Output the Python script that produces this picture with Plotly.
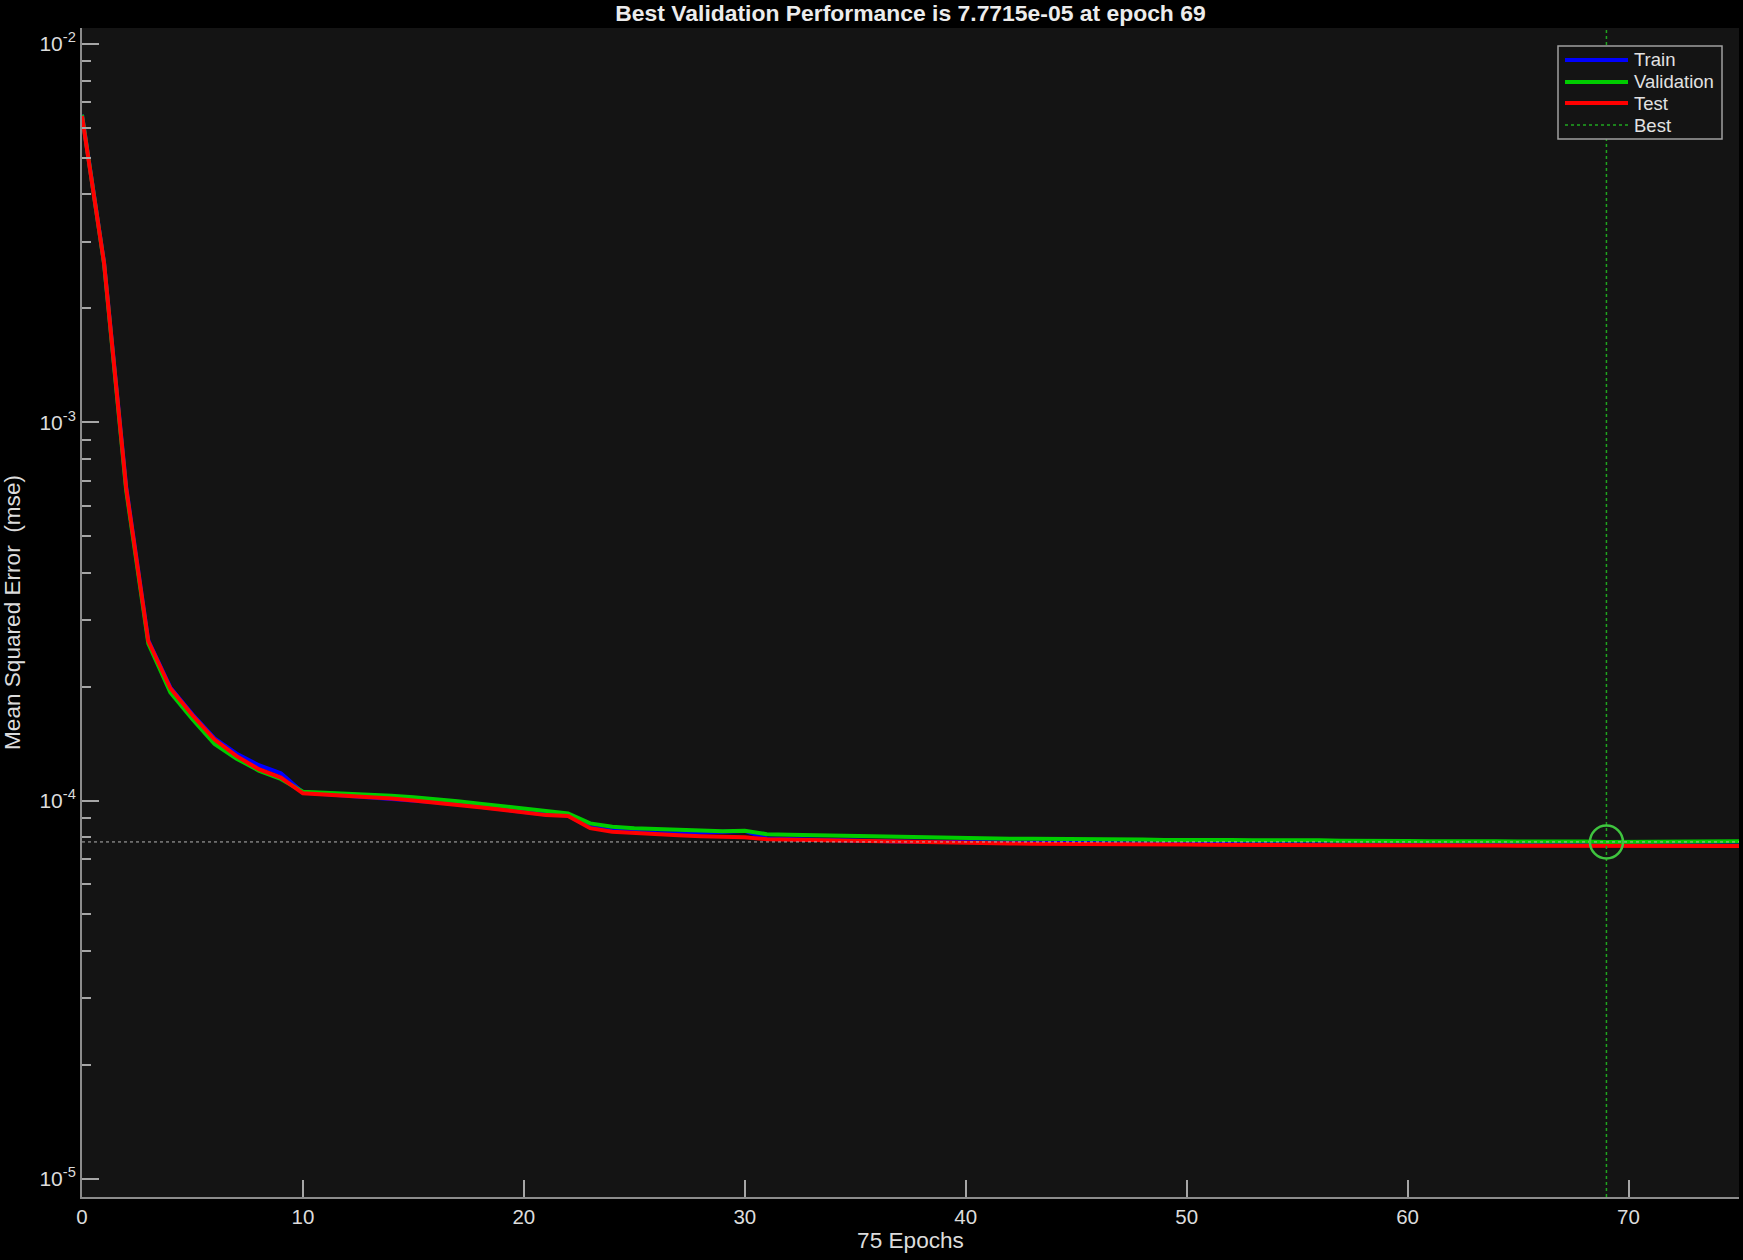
import plotly.graph_objects as go

epochs = list(range(0, 76))

train_mse = [6.50e-3, 2.64e-3, 6.75e-4, 2.65e-4, 1.99e-4, 1.69e-4, 1.46e-4, 1.33e-4, 1.24e-4, 1.18e-4,
             1.050e-4, 1.040e-4, 1.033e-4, 1.025e-4, 1.015e-4, 1.003e-4, 9.90e-5, 9.78e-5, 9.63e-5, 9.48e-5,
             9.33e-5, 9.18e-5, 9.13e-5, 8.50e-5, 8.33e-5, 8.26e-5, 8.21e-5, 8.18e-5, 8.22e-5, 8.30e-5,
             8.31e-5, 7.94e-5, 7.91e-5, 7.89e-5, 7.88e-5, 7.86e-5, 7.82e-5, 7.79e-5, 7.78e-5, 7.77e-5,
             7.76e-5, 7.74e-5, 7.73e-5, 7.72e-5, 7.72e-5, 7.71e-5, 7.70e-5, 7.70e-5, 7.69e-5, 7.69e-5,
             7.68e-5, 7.67e-5, 7.67e-5, 7.66e-5, 7.66e-5, 7.65e-5, 7.65e-5, 7.65e-5, 7.64e-5, 7.64e-5,
             7.64e-5, 7.63e-5, 7.63e-5, 7.63e-5, 7.63e-5, 7.62e-5, 7.62e-5, 7.62e-5, 7.62e-5, 7.61e-5,
             7.61e-5, 7.61e-5, 7.61e-5, 7.61e-5, 7.61e-5, 7.61e-5]

validation_mse = [6.50e-3, 2.62e-3, 6.60e-4, 2.60e-4, 1.93e-4, 1.64e-4, 1.41e-4, 1.29e-4, 1.20e-4, 1.14e-4,
                  1.055e-4, 1.050e-4, 1.045e-4, 1.040e-4, 1.030e-4, 1.020e-4, 1.010e-4, 9.95e-5, 9.80e-5, 9.65e-5,
                  9.50e-5, 9.35e-5, 9.25e-5, 8.70e-5, 8.52e-5, 8.45e-5, 8.40e-5, 8.36e-5, 8.32e-5, 8.30e-5,
                  8.32e-5, 8.15e-5, 8.12e-5, 8.10e-5, 8.09e-5, 8.07e-5, 8.03e-5, 7.99e-5, 7.99e-5, 7.96e-5,
                  7.97e-5, 7.94e-5, 7.93e-5, 7.92e-5, 7.92e-5, 7.90e-5, 7.90e-5, 7.89e-5, 7.89e-5, 7.87e-5,
                  7.88e-5, 7.86e-5, 7.86e-5, 7.85e-5, 7.86e-5, 7.84e-5, 7.85e-5, 7.83e-5, 7.84e-5, 7.82e-5,
                  7.82e-5, 7.81e-5, 7.82e-5, 7.80e-5, 7.80e-5, 7.79e-5, 7.80e-5, 7.78e-5, 7.79e-5, 7.7715e-5,
                  7.78e-5, 7.78e-5, 7.775e-5, 7.78e-5, 7.79e-5, 7.80e-5]

test_mse = [6.45e-3, 2.63e-3, 6.70e-4, 2.64e-4, 1.98e-4, 1.68e-4, 1.45e-4, 1.31e-4, 1.21e-4, 1.15e-4,
            1.045e-4, 1.037e-4, 1.030e-4, 1.022e-4, 1.012e-4, 1.000e-4, 9.88e-5, 9.75e-5, 9.60e-5, 9.45e-5,
            9.30e-5, 9.15e-5, 9.10e-5, 8.45e-5, 8.27e-5, 8.20e-5, 8.14e-5, 8.09e-5, 8.05e-5, 8.02e-5,
            8.00e-5, 7.90e-5, 7.88e-5, 7.86e-5, 7.85e-5, 7.83e-5, 7.79e-5, 7.76e-5, 7.75e-5, 7.74e-5,
            7.73e-5, 7.71e-5, 7.70e-5, 7.69e-5, 7.69e-5, 7.68e-5, 7.67e-5, 7.67e-5, 7.66e-5, 7.66e-5,
            7.65e-5, 7.64e-5, 7.64e-5, 7.63e-5, 7.63e-5, 7.62e-5, 7.62e-5, 7.62e-5, 7.61e-5, 7.61e-5,
            7.61e-5, 7.60e-5, 7.60e-5, 7.60e-5, 7.60e-5, 7.59e-5, 7.59e-5, 7.59e-5, 7.59e-5, 7.58e-5,
            7.58e-5, 7.58e-5, 7.58e-5, 7.58e-5, 7.58e-5, 7.58e-5]

best_epoch = 69
best_value = validation_mse[best_epoch]

x_ticks = [0, 10, 20, 30, 40, 50, 60, 70]
y_decades = [-5, -4, -3, -2]
y_range = [-5.048, -1.958]
x_range = [0, 75]

legend_names = ["Train", "Validation", "Test", "Best"]
legend_colors = ["#0000ff", "#00cc00", "#ff0000", "#1fa61f"]

FONT = "Liberation Sans, Arial, sans-serif"
TICK_COLOR = "#a6a6a6"
TEXT_COLOR = "#dcdcdc"

W, H = 1743, 1260
ML, MR, MT, MB = 82, 4, 28, 63
PW, PH = W - ML - MR, H - MT - MB


def px_x(px):
    return (px - ML) / PW


def px_y(py):
    return 1 - (py - MT) / PH


fig = go.Figure()

fig.add_trace(go.Scatter(x=epochs, y=train_mse, mode="lines", name="Train", showlegend=False,
                         line=dict(color=legend_colors[0], width=4)))
fig.add_trace(go.Scatter(x=epochs, y=validation_mse, mode="lines", name="Validation", showlegend=False,
                         line=dict(color=legend_colors[1], width=4)))
fig.add_trace(go.Scatter(x=epochs, y=test_mse, mode="lines", name="Test", showlegend=False,
                         line=dict(color=legend_colors[2], width=4)))
fig.add_trace(go.Scatter(x=[best_epoch, best_epoch], y=[10 ** y_range[0], 10 ** y_range[1]],
                         mode="lines", name="Best", showlegend=False,
                         line=dict(color=legend_colors[3], width=1.5, dash="dot")))
fig.add_trace(go.Scatter(x=x_range, y=[best_value, best_value], mode="lines", showlegend=False,
                         line=dict(color="#b4b4b4", width=1, dash="dot"), hoverinfo="skip"))
fig.add_trace(go.Scatter(x=[best_epoch], y=[best_value], mode="markers", showlegend=False,
                         marker=dict(symbol="circle-open", size=33, color="#3fc43f",
                                     line=dict(color="#3fc43f", width=2.5))))

# custom legend (MATLAB style)
shapes = [dict(type="rect", xref="paper", yref="paper",
               x0=px_x(1558), x1=px_x(1722), y0=px_y(139), y1=px_y(46),
               fillcolor="#141414", line=dict(color="#a0a0a0", width=1.5), layer="above")]
annotations = []
row_y = [60, 82, 103, 125]
for name, color, ry in zip(legend_names, legend_colors, row_y):
    is_best = name == "Best"
    shapes.append(dict(type="line", xref="paper", yref="paper",
                       x0=px_x(1565), x1=px_x(1628), y0=px_y(ry), y1=px_y(ry), layer="above",
                       line=dict(color=color, width=1.5 if is_best else 4,
                                 dash="dot" if is_best else "solid")))
    annotations.append(dict(text=name, xref="paper", yref="paper", x=px_x(1632), y=px_y(ry),
                            xanchor="left", yanchor="middle", showarrow=False,
                            font=dict(family=FONT, size=18.5, color="#e2e2e2")))

fig.update_layout(
    width=W, height=H,
    margin=dict(l=ML, r=MR, t=MT, b=MB),
    paper_bgcolor="#000000",
    plot_bgcolor="#141414",
    font=dict(family=FONT, color=TEXT_COLOR, size=20.5),
    title=dict(text=f"<b>Best Validation Performance is {best_value:.4e} at epoch {best_epoch}</b>",
               x=(ML + W - MR) / 2 / W, xanchor="center", xref="container",
               y=1 - 13 / H, yanchor="middle", yref="container",
               font=dict(family=FONT, size=22.9, color="#ececec")),
    showlegend=False,
    shapes=shapes,
    annotations=annotations,
    xaxis=dict(range=x_range, tickmode="array", tickvals=x_ticks,
               ticks="inside", ticklen=17, tickwidth=1.5, tickcolor=TICK_COLOR,
               showline=True, linecolor="#8c8c8c", linewidth=2,
               showgrid=False, zeroline=False,
               tickfont=dict(family=FONT, size=20.5, color=TEXT_COLOR),
               title=dict(text="75 Epochs", standoff=3, font=dict(family=FONT, size=22.6, color=TEXT_COLOR))),
    yaxis=dict(type="log", range=y_range, tickmode="array",
               tickvals=[10.0 ** e for e in y_decades],
               ticktext=[f"10<sup>{e}</sup>" for e in y_decades],
               ticks="inside", ticklen=17, tickwidth=1.5, tickcolor=TICK_COLOR,
               minor=dict(tickmode="array", tickvals=[k * 10.0 ** e for e in y_decades[:-1] for k in range(2, 10)],
                          ticks="inside", ticklen=9, tickwidth=1.5, tickcolor=TICK_COLOR, showgrid=False),
               showline=True, linecolor="#8c8c8c", linewidth=2,
               showgrid=False, zeroline=False,
               tickfont=dict(family=FONT, size=21, color=TEXT_COLOR),
               title=dict(text="Mean Squared Error\u00a0 (mse)", standoff=12,
                          font=dict(family=FONT, size=22.6, color=TEXT_COLOR))),
)

fig.write_html("out.html", config={"displayModeBar": False},
               post_script="document.body.style.margin='0';document.body.style.background='#000';")
